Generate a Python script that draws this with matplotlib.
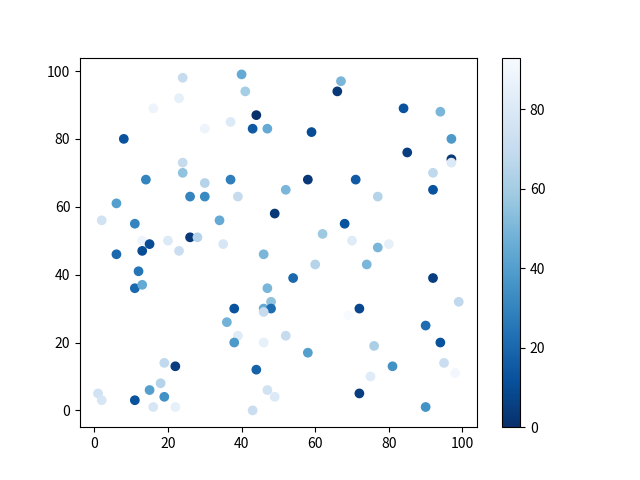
import numpy as np
import matplotlib
matplotlib.use('Agg')
import matplotlib.pyplot as plt

plt.rcParams['font.family'] = ['Noto Sans CJK SC', 'DejaVu Sans']

# point positions
x = [24, 40, 41, 23, 16, 44, 37, 43, 47, 30, 8, 24, 24, 14, 30, 37,
     67, 66, 84, 94, 59, 97, 85, 97, 97, 92, 58, 71,
     6, 26, 30, 39, 49, 2, 11, 34, 13, 15, 20, 26, 28, 13, 23, 35, 6, 46, 12, 47, 11, 13, 48,
     52, 92, 77, 68, 62, 70, 80, 77, 60, 74, 54, 92, 99,
     46, 48, 38, 46, 36, 39, 38, 46, 19, 22, 44, 18, 15, 19, 11, 1, 2, 16, 22, 47, 49, 43,
     72, 69, 90, 94, 52, 58, 76, 81, 95, 98, 75, 72, 90]
y = [98, 99, 94, 92, 89, 87, 85, 83, 83, 83, 80, 73, 70, 68, 67, 68,
     97, 94, 89, 88, 82, 80, 76, 74, 73, 70, 68, 68,
     61, 63, 63, 63, 58, 56, 55, 56, 50, 49, 50, 51, 51, 47, 47, 49, 46, 46, 41, 36, 36, 37, 32,
     65, 65, 63, 55, 52, 50, 49, 48, 43, 43, 39, 39, 32,
     30, 30, 30, 29, 26, 22, 20, 20, 14, 13, 12, 8, 6, 4, 3, 5, 3, 1, 1, 6, 4, 0,
     30, 28, 25, 20, 22, 17, 19, 13, 14, 11, 10, 5, 1]
colors = [70, 45, 60, 85, 88, 0, 80, 15, 45, 88, 12, 70, 55, 30, 65, 28,
          50, 3, 12, 50, 10, 38, 5, 3, 80, 68, 3, 15,
          40, 30, 32, 70, 3, 75, 30, 45, 88, 10, 80, 3, 65, 10, 72, 78, 20, 50, 25, 50, 20, 45, 55,
          50, 12, 65, 12, 58, 82, 85, 50, 65, 50, 20, 5, 68,
          45, 22, 12, 70, 48, 82, 38, 85, 68, 5, 18, 65, 40, 35, 12, 75, 78, 78, 85, 75, 80, 72,
          8, 93, 22, 12, 70, 40, 62, 35, 72, 90, 82, 5, 35]

plt.figure()
plt.scatter(x, y, c=colors, cmap='Blues_r')
plt.colorbar()
plt.savefig('out.png')
